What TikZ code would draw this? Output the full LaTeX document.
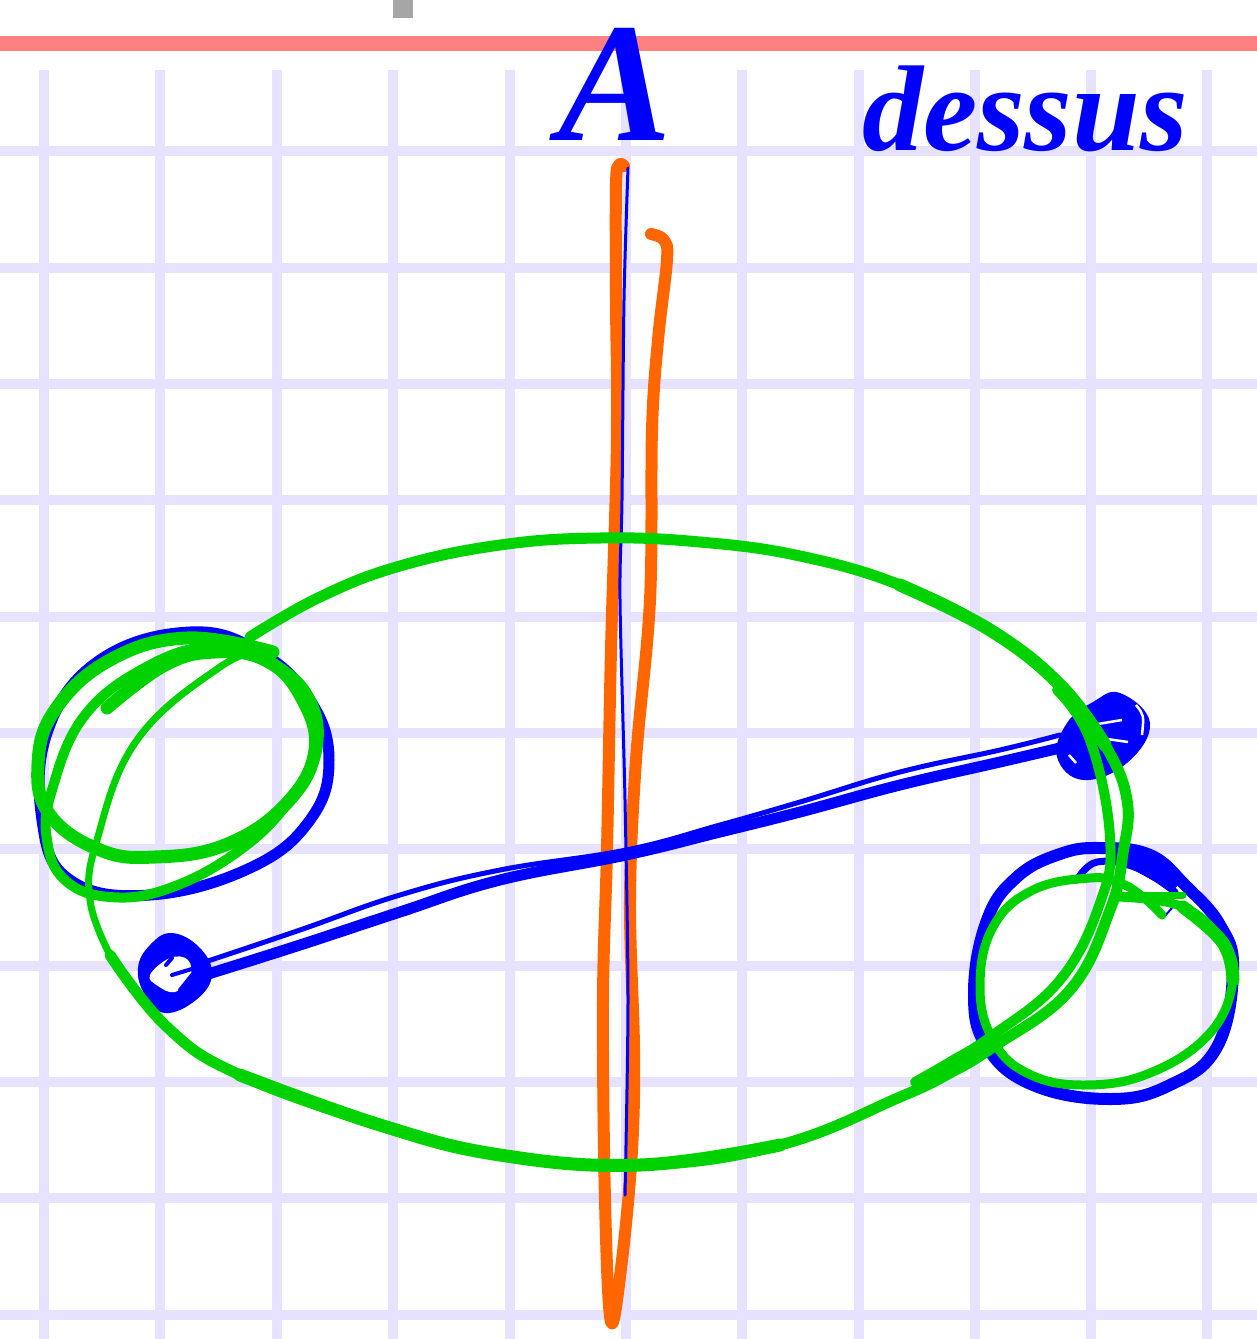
\documentclass[tikz,border=0pt]{standalone}
\usepackage{xcolor}
\usepackage{fontspec}
\setmainfont{Liberation Serif}
\usepackage{tikz}
\definecolor{gridLilac}{HTML}{E6E2FF}
\definecolor{marginRed}{HTML}{FF8080}
\definecolor{inkBlue}{HTML}{0000FF}
\definecolor{inkGreen}{HTML}{00D200}
\definecolor{inkOrange}{HTML}{FF6600}
\tikzset{
    gridLine/.style={draw=gridLilac, line width=10pt},
    blueInk/.style={draw=inkBlue, line cap=round, line join=round},
    greenInk/.style={draw=inkGreen, line cap=round, line join=round},
    orangeInk/.style={draw=inkOrange, line width=12pt, line cap=round, line join=round},
    handText/.style={text=inkBlue, inner sep=0pt, anchor=base, font=\bfseries\itshape}
}

\begin{document}
\begin{tikzpicture}[x=1pt, y=-1pt]
        \useasboundingbox (0,0) rectangle (1257,1339);
        \fill[white] (0,0) rectangle (1257,1339);

        % paper
        \foreach \i in {44,160,277,393,510,626,742,859,975,1091,1207} {
            \draw[gridLine] (\i,70) -- (\i,1339);
        }
        \foreach \j in {151,268,384,500,617,733,849,966,1082,1198,1315} {
            \draw[gridLine] (0,\j) -- (1257,\j);
        }
        \fill[marginRed] (0,36) rectangle (1257,51);
        \fill[gray!70] (393,0) rectangle (413,18);

        % labels
        \node (axisLabel) [handText] at (615,140) {\fontsize{170}{170}\selectfont A};
        \node (topLabel) [handText] at (1025,150) {\fontsize{122}{122}\selectfont dessus};

        % axis
        \draw[orangeInk] plot[smooth, tension=0.6] coordinates {(624,166) (619,165) (616,185) (616,300) (617,440) (611,650) (607,850) (603,1000) (605,1200) (611,1322) (622,1260) (632,1150) (634,1050) (630,900) (636,760) (650,600) (652,430) (658,340) (667,260) (664,240) (651,234)};
        \draw[blueInk, line width=3pt] plot[smooth, tension=0.5] coordinates {(628,168) (624,300) (622,500) (620,600) (625,800) (628,1000) (625,1195)};

        % blue rod and balls
        \draw[blueInk, line width=11pt] plot[smooth, tension=0.7] coordinates {(205,975) (300,945) (400,912) (500,880) (626,855) (720,832) (800,812) (900,785) (1000,762) (1060,748)};
        \draw[blueInk, line width=5pt] plot[smooth, tension=0.7] coordinates {(205,962) (300,930) (400,895) (500,870) (626,850) (720,825) (800,802) (900,772) (1000,750) (1060,735)};
        \fill[inkBlue] plot[smooth cycle, tension=0.7] coordinates {(172,933) (200,948) (212,975) (196,1000) (165,1013) (145,995) (138,968) (150,945)};
        \fill[white] plot[smooth cycle, tension=0.7] coordinates {(170,958) (188,960) (190,978) (175,992) (158,986) (150,975)};
        \draw[blueInk, line width=4pt] (172,975) -- (195,968) (180,990) -- (192,975) (166,965) -- (172,958);
        \fill[inkBlue] plot[smooth cycle, tension=0.7] coordinates {(1120,693) (1150,723) (1127,763) (1083,780) (1057,757) (1067,723) (1093,702)};
        \draw[white, line width=2.5pt] (1098,724) -- (1122,720) (1100,738) -- (1128,742) (1136,705) .. controls (1144,715) .. (1142,735) (1069,755) -- (1076,763);
        \draw[blueInk, line width=11pt] plot[smooth cycle, tension=0.7] coordinates {(190,632) (260,652) (310,700) (329,760) (310,820) (250,868) (150,895) (70,880) (42,820) (48,730) (100,660)};
        \draw[blueInk, line width=12pt] plot[smooth cycle, tension=0.7] coordinates {(1100,848) (1150,855) (1185,885) (1220,925) (1233,970) (1217,1047) (1170,1085) (1110,1099) (1033,1085) (987,1047) (974,993) (987,920) (1017,877) (1060,854)};
        \draw[blueInk, line width=7pt] plot[smooth, tension=0.7] coordinates {(1077,880) (1097,862) (1137,868) (1175,892)};
        \fill[inkBlue] plot[smooth cycle, tension=0.7] coordinates {(1120,848) (1150,852) (1175,878) (1170,888) (1130,868) (1115,860)};
        \draw[blueInk, line width=2pt] (1172,908) -- (1163,918);

        % green orbit
        \draw[greenInk, line width=11pt] plot[smooth, tension=0.7] coordinates {(250,637) (320,597) (400,566) (500,545) (600,538) (700,542) (800,556) (900,585) (990,630) (1060,685) (1105,745) (1127,800) (1123,853) (1110,910) (1070,990) (993,1047) (950,1073) (900,1097) (780,1145) (640,1165) (500,1155) (380,1125) (240,1075) (167,1027) (110,955)};
        \draw[greenInk, line width=7pt] plot[smooth, tension=0.7] coordinates {(110,955) (90,900) (97,840) (137,740) (220,667) (265,650)};
        \draw[greenInk, line width=13pt] plot[smooth, tension=0.7] coordinates {(900,585) (990,630) (1060,685) (1105,745)};
        \draw[greenInk, line width=13pt] plot[smooth, tension=0.7] coordinates {(780,1145) (640,1165) (500,1155) (380,1125) (240,1075)};
        \draw[greenInk, line width=10pt] plot[smooth, tension=0.7] coordinates {(1057,690) (1090,740) (1110,837) (1100,903) (1060,980) (993,1035) (950,1062) (915,1082)};
        % green spheres
        \draw[greenInk, line width=13pt] plot[smooth, tension=0.7] coordinates {(273,652) (187,638) (110,660) (55,710) (38,765) (50,815) (100,850) (155,857) (225,845) (285,805) (315,750) (300,695) (265,660) (215,652) (165,665) (107,708)};
        \draw[greenInk, line width=10pt] plot[smooth, tension=0.7] coordinates {(270,650) (215,645) (150,665) (85,715) (52,790) (47,840) (65,880) (110,897) (170,888) (240,850) (290,800) (318,745) (305,690) (260,655)};
        \draw[greenInk, line width=9pt] plot[smooth, tension=0.7] coordinates {(1162,915) (1143,897) (1120,883) (1090,878) (1033,890) (993,927) (980,987) (993,1040) (1027,1073) (1083,1085) (1150,1073) (1210,1033) (1233,980) (1223,943) (1183,907) (1117,897)};
        \draw[greenInk, line width=13pt] plot[smooth, tension=0.7] coordinates {(1183,907) (1223,943) (1233,980)};
        \draw[greenInk, line width=7pt] (1118,895) -- (1183,895);
    \end{tikzpicture}
\end{document}
